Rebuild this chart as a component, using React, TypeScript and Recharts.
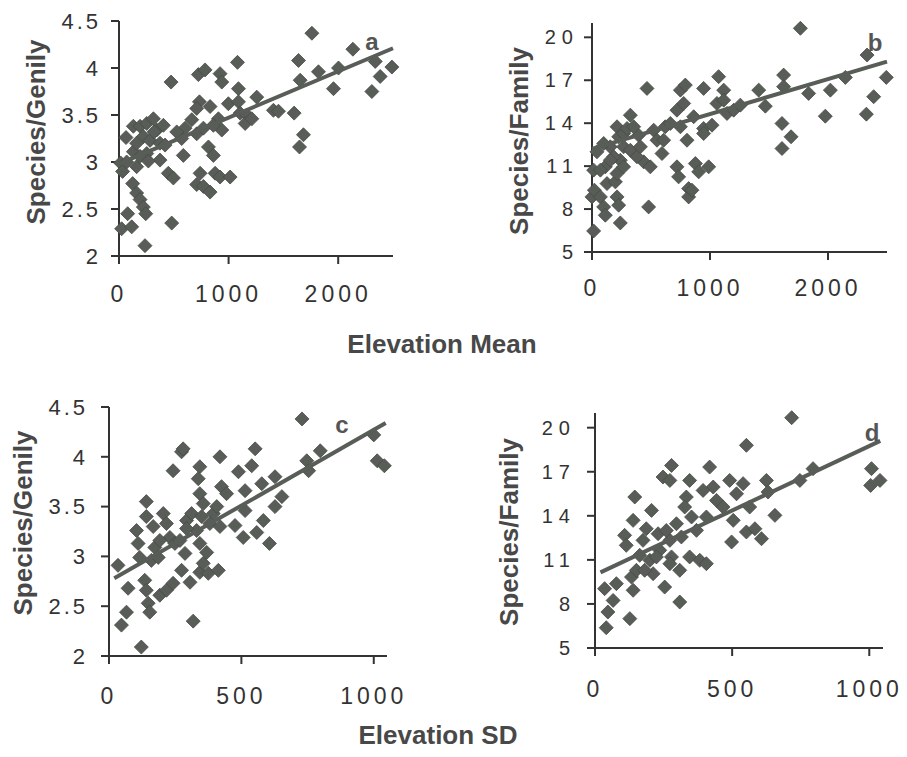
import React from "react";
import { ScatterChart, Scatter, XAxis, YAxis } from "recharts";

// a: Species/Genily vs Elevation Mean
const pointsA = [
  [64, 3.26], [15, 2.99], [33, 2.9], [24, 2.29], [79, 2.45], [116, 2.31], [131, 3.11],
  [161, 2.95], [125, 2.77], [161, 2.67], [192, 2.6], [222, 2.52], [244, 2.45], [237, 2.11],
  [131, 3.38], [192, 3.38], [253, 3.41], [314, 3.46], [344, 3.34], [405, 3.39], [222, 3.27],
  [283, 3.23], [374, 3.2], [420, 3.18], [253, 3.09], [192, 3.06], [374, 3.02], [268, 3.01],
  [450, 2.88], [496, 2.83], [475, 3.85], [481, 2.35], [587, 3.07], [572, 3.25], [603, 3.36],
  [664, 3.45], [709, 3.3], [770, 3.36], [724, 3.93], [785, 3.98], [734, 3.64], [831, 3.59],
  [740, 2.88], [709, 2.76], [770, 2.74], [831, 2.68], [816, 3.16], [861, 3.07], [877, 2.88],
  [922, 2.84], [1014, 2.84], [922, 3.94], [938, 3.85], [907, 3.46], [938, 3.34], [861, 3.39],
  [998, 3.62], [1081, 4.06], [1090, 3.78], [1090, 3.64], [1105, 3.52], [1166, 3.5], [1151, 3.41],
  [1212, 3.46], [1257, 3.69], [1409, 3.55], [1455, 3.54], [1598, 3.52], [1638, 4.08], [1653, 3.87],
  [1683, 3.29], [1647, 3.16], [1760, 4.37], [1820, 3.96], [1957, 3.78], [2003, 4.0], [2134, 4.2],
  [2307, 3.75], [2338, 4.07], [2383, 3.91], [2490, 4.01], [709, 3.57], [527, 3.32], [70, 3.0],
  [161, 3.2], [320, 3.32],
];
const trendA = [[0, 2.98], [2500, 4.21]];

// b: Species/Family vs Elevation Mean
const pointsB = [
  [14, 6.47], [0, 8.85], [20, 9.32], [14, 10.72], [42, 12.0], [71, 8.85], [99, 8.15],
  [113, 7.57], [113, 10.95], [127, 9.78], [198, 9.9], [212, 8.85], [226, 8.27], [240, 7.03],
  [155, 12.35], [99, 12.58], [212, 13.75], [226, 13.05], [268, 13.28], [325, 14.56], [297, 13.63],
  [268, 12.35], [325, 12.11], [240, 11.41], [212, 10.48], [268, 10.95], [184, 11.65], [395, 13.16],
  [438, 11.3], [494, 10.95], [466, 16.43], [480, 8.15], [381, 11.65], [523, 13.51], [551, 12.81],
  [593, 11.88], [621, 13.75], [664, 13.98], [720, 14.91], [749, 16.31], [791, 16.66], [777, 15.38],
  [749, 13.75], [805, 12.81], [720, 10.95], [734, 10.25], [819, 9.43], [819, 8.85], [847, 9.32],
  [876, 11.18], [904, 10.6], [989, 10.95], [946, 16.43], [946, 13.63], [1017, 13.86], [1059, 15.38],
  [1073, 17.25], [1116, 16.31], [1116, 15.61], [1144, 14.68], [1201, 14.91], [1257, 15.26],
  [1413, 16.31], [1469, 15.19], [1624, 17.36], [1624, 16.55], [1610, 13.98], [1687, 13.05],
  [1610, 12.23], [1766, 20.63], [1836, 16.08], [2020, 16.31], [1977, 14.49], [2147, 17.2],
  [2331, 18.76], [2387, 15.85], [2325, 14.63], [2494, 17.2], [946, 13.28], [862, 14.45],
  [410, 12.35], [155, 11.41], [71, 10.72], [353, 13.75], [607, 12.81],
];
const trendB = [[0, 12.2], [2500, 18.3]];

// c: Species/Genily vs Elevation SD
const pointsC = [
  [34, 2.91], [47, 2.31], [66, 2.44], [72, 2.68], [122, 2.09], [104, 3.26], [110, 3.13],
  [116, 2.99], [135, 2.76], [141, 3.55], [141, 3.4], [141, 2.66], [148, 2.53], [154, 2.44],
  [167, 3.3], [173, 3.09], [160, 2.96], [186, 2.99], [205, 3.43], [217, 3.33], [192, 2.61],
  [217, 2.66], [242, 2.73], [242, 3.86], [274, 4.05], [280, 4.08], [230, 3.19], [249, 3.13],
  [268, 3.16], [287, 3.03], [274, 2.86], [306, 2.74], [318, 2.35], [293, 3.36], [312, 3.43],
  [331, 3.26], [343, 3.9], [337, 3.78], [343, 3.63], [356, 3.53], [350, 3.4], [369, 3.04],
  [343, 2.84], [375, 2.83], [413, 2.86], [394, 3.43], [381, 3.33], [407, 3.5], [419, 4.0],
  [425, 3.7], [444, 3.63], [419, 3.3], [476, 3.31], [489, 3.85], [514, 3.66], [514, 3.46],
  [507, 3.19], [539, 3.91], [552, 4.08], [558, 3.24], [577, 3.73], [583, 3.36], [606, 3.13],
  [627, 3.8], [627, 3.5], [653, 3.6], [729, 4.38], [747, 3.96], [754, 3.86], [798, 4.06],
  [1000, 4.22], [1013, 3.96], [1040, 3.91], [343, 3.13], [356, 2.93], [293, 3.28], [192, 3.16],
];
const trendC = [[20, 2.78], [1045, 4.34]];

// d: Species/Family vs Elevation SD
const pointsD = [
  [41, 6.38], [47, 7.45], [35, 9.04], [66, 8.24], [78, 9.38], [127, 7.0], [108, 12.67],
  [114, 11.99], [145, 15.28], [139, 13.69], [133, 9.83], [139, 8.93], [151, 10.29], [163, 11.31],
  [175, 12.33], [187, 13.12], [206, 14.37], [200, 10.97], [212, 10.06], [230, 12.78], [236, 11.65],
  [254, 9.15], [248, 16.64], [279, 17.43], [273, 16.41], [273, 12.33], [279, 11.2], [309, 8.13],
  [297, 13.46], [315, 12.56], [309, 10.29], [345, 16.41], [333, 15.28], [327, 14.6], [352, 13.92],
  [345, 11.2], [382, 10.97], [406, 10.74], [370, 13.01], [406, 13.92], [418, 17.32], [431, 15.96],
  [443, 15.05], [467, 14.6], [491, 16.41], [504, 13.69], [498, 12.22], [516, 15.5], [540, 16.19],
  [552, 18.8], [564, 14.6], [552, 12.9], [583, 13.12], [607, 12.44], [625, 16.41], [631, 15.62],
  [656, 14.03], [717, 20.68], [747, 16.41], [795, 17.21], [1008, 17.21], [1005, 16.07],
  [1039, 16.41], [181, 10.29], [224, 11.2], [260, 13.0], [394, 15.73], [273, 10.74],
];
const trendD = [[20, 10.15], [1040, 19.1]];

const genilyTicks = [2, 2.5, 3, 3.5, 4, 4.5];
const familyTicks = [5, 8, 11, 14, 17, 20];
const meanTicks = [0, 1000, 2000];
const sdTicks = [0, 500, 1000];

const toXY = (arr: number[][]) => arr.map(([x, y]) => ({ x, y }));

const MARK = "#585d58";
const INK = "#333";
const FONT = "Liberation Sans, Arial, sans-serif";

const Diamond = (props: any) => {
  const { cx, cy } = props;
  const r = 7;
  return (
    <polygon
      points={`${cx},${cy - r} ${cx + r},${cy} ${cx},${cy + r} ${cx - r},${cy}`}
      fill={MARK}
      stroke="#474b47"
      strokeWidth={0.8}
    />
  );
};

const Nothing = () => <g />;

type PanelProps = {
  box: [number, number, number, number];
  plot: [number, number, number, number]; // left, right, top, bottom
  points: number[][];
  trend: number[][];
  xDomain: [number, number];
  xTicks: number[];
  yDomain: [number, number];
  yTicks: number[];
  xTickMargin: number;
  yTickMargin: number;
  yFont: number;
  ySpacing: number;
};

const Panel = (p: PanelProps) => {
  const [bx, by, bw, bh] = p.box;
  const [pl, pr, pt, pb] = p.plot;
  const yw = 70;
  const xh = 50;
  return (
    <div style={{ position: "absolute", left: bx, top: by }}>
      <ScatterChart
        width={bw}
        height={bh}
        margin={{ left: pl - bx - yw, right: bx + bw - pr, top: pt - by, bottom: by + bh - pb - xh }}
      >
        <XAxis
          type="number"
          dataKey="x"
          domain={p.xDomain}
          ticks={p.xTicks}
          height={xh}
          tickSize={8}
          tickMargin={p.xTickMargin}
          stroke={INK}
          strokeWidth={2}
          tick={{ fill: INK, fontSize: 23, letterSpacing: 4, fontFamily: FONT }}
        />
        <YAxis
          type="number"
          dataKey="y"
          domain={p.yDomain}
          ticks={p.yTicks}
          width={yw}
          tickSize={8}
          tickMargin={p.yTickMargin}
          stroke={INK}
          strokeWidth={2}
          tick={{ fill: INK, fontSize: p.yFont, letterSpacing: p.ySpacing, fontFamily: FONT }}
        />
        <Scatter data={toXY(p.points)} shape={Diamond} isAnimationActive={false} />
        <Scatter
          data={toXY(p.trend)}
          shape={Nothing}
          line={{ stroke: MARK, strokeWidth: 4 }}
          isAnimationActive={false}
        />
      </ScatterChart>
    </div>
  );
};

const titleStyle = {
  fontFamily: FONT,
  fontWeight: 700,
  fontSize: 26,
  fill: "#484848",
};
const letterStyle = {
  fontFamily: FONT,
  fontWeight: 700,
  fontSize: 24,
  fill: "#555",
};

export default function App() {
  return (
    <div style={{ position: "absolute", left: 0, top: 0, width: 907, height: 757, background: "#fff" }}>
      <Panel
        box={[0, 0, 450, 310]}
        plot={[119, 393, 21, 256]}
        points={pointsA}
        trend={trendA}
        xDomain={[0, 2500]}
        xTicks={meanTicks}
        yDomain={[2, 4.5]}
        yTicks={genilyTicks}
        xTickMargin={22}
        yTickMargin={10}
        yFont={22}
        ySpacing={3}
      />
      <Panel
        box={[450, 0, 457, 310]}
        plot={[592, 887, 23, 252]}
        points={pointsB}
        trend={trendB}
        xDomain={[0, 2500]}
        xTicks={meanTicks}
        yDomain={[5, 21]}
        yTicks={familyTicks}
        xTickMargin={20}
        yTickMargin={5}
        yFont={20}
        ySpacing={6}
      />
      <Panel
        box={[0, 390, 450, 320]}
        plot={[109, 387, 407, 656]}
        points={pointsC}
        trend={trendC}
        xDomain={[0, 1050]}
        xTicks={sdTicks}
        yDomain={[2, 4.5]}
        yTicks={genilyTicks}
        xTickMargin={24}
        yTickMargin={13}
        yFont={22}
        ySpacing={3}
      />
      <Panel
        box={[450, 390, 457, 320]}
        plot={[595, 883, 413, 648]}
        points={pointsD}
        trend={trendD}
        xDomain={[0, 1050]}
        xTicks={sdTicks}
        yDomain={[5, 21]}
        yTicks={familyTicks}
        xTickMargin={25}
        yTickMargin={11}
        yFont={20}
        ySpacing={6}
      />
      <svg width={907} height={757} style={{ position: "absolute", left: 0, top: 0, pointerEvents: "none" }}>
        <text x={36} y={132} transform="rotate(-90 36 132)" textAnchor="middle" dominantBaseline="central" style={titleStyle}>
          Species/Genily
        </text>
        <text x={519} y={141} transform="rotate(-90 519 141)" textAnchor="middle" dominantBaseline="central" style={titleStyle}>
          Species/Family
        </text>
        <text x={23} y={523} transform="rotate(-90 23 523)" textAnchor="middle" dominantBaseline="central" style={titleStyle}>
          Species/Genily
        </text>
        <text x={509} y={532} transform="rotate(-90 509 532)" textAnchor="middle" dominantBaseline="central" style={titleStyle}>
          Species/Family
        </text>
        <text x={442} y={344} textAnchor="middle" dominantBaseline="central" style={titleStyle}>
          Elevation Mean
        </text>
        <text x={438} y={735} textAnchor="middle" dominantBaseline="central" style={titleStyle}>
          Elevation SD
        </text>
        <text x={372} y={41} textAnchor="middle" dominantBaseline="central" style={letterStyle}>a</text>
        <text x={875} y={42} textAnchor="middle" dominantBaseline="central" style={letterStyle}>b</text>
        <text x={342} y={424} textAnchor="middle" dominantBaseline="central" style={letterStyle}>c</text>
        <text x={872} y={432} textAnchor="middle" dominantBaseline="central" style={letterStyle}>d</text>
      </svg>
    </div>
  );
}
